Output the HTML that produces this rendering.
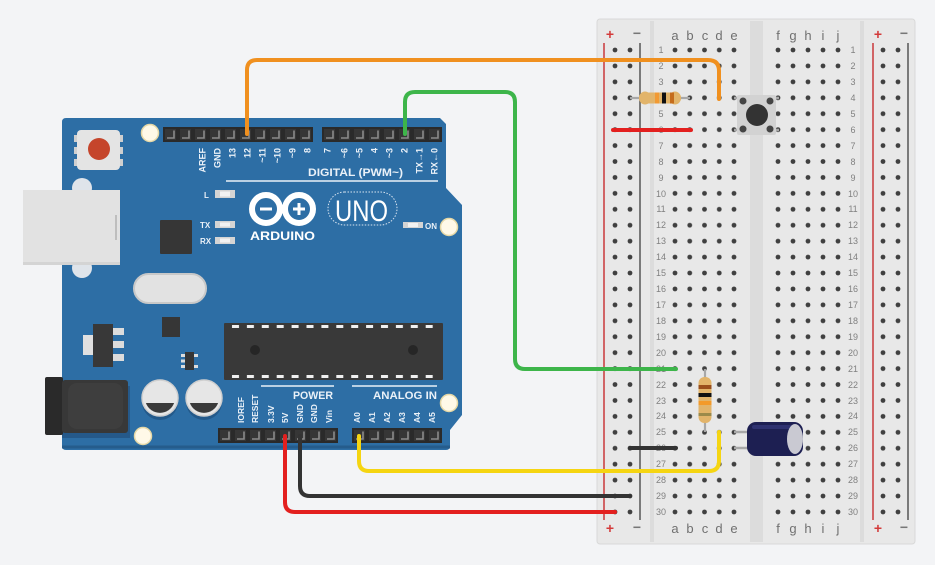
<!DOCTYPE html>
<html><head><meta charset="utf-8"><style>
html,body{margin:0;padding:0;background:#f3f4f6;}
svg{display:block;}
text{font-family:"Liberation Sans",sans-serif;}
</style></head><body>
<svg width="935" height="565" viewBox="0 0 935 565" xmlns="http://www.w3.org/2000/svg">
<defs>
<pattern id="pA" patternUnits="userSpaceOnUse" x="667.625" y="42.035" width="14.75" height="15.93"><circle cx="7.375" cy="7.965" r="2.4" fill="#404040"/></pattern>
<pattern id="pB" patternUnits="userSpaceOnUse" x="770.5" y="42.035" width="15" height="15.93"><circle cx="7.5" cy="7.965" r="2.4" fill="#404040"/></pattern>
<pattern id="pR" patternUnits="userSpaceOnUse" x="607.5" y="42.035" width="15" height="15.93"><circle cx="7.5" cy="7.965" r="2.4" fill="#404040"/></pattern>
<pattern id="pH" patternUnits="userSpaceOnUse" x="0" y="0" width="15" height="15"><rect x="0" y="0" width="15" height="15" fill="#2a2a2a"/><rect x="2" y="2" width="11" height="11" fill="#363636"/><path d="M11,3.5 V11 H4" stroke="#8a8a8a" stroke-width="1.6" fill="none"/></pattern>
<pattern id="pM" patternUnits="userSpaceOnUse" x="0" y="0" width="14.9" height="57"><rect x="4" y="2" width="7" height="3" fill="#f0f0f0"/><rect x="4" y="52" width="7" height="3" fill="#f0f0f0"/></pattern>
</defs>

<rect width="935" height="565" fill="#f3f4f6"/>

<!-- ================= BREADBOARD ================= -->
<rect x="597" y="19" width="318" height="525" rx="3" fill="#e8e8e8" stroke="#d9d9d9"/>
<rect x="650" y="21" width="4" height="521" fill="#dcdcdc"/>
<rect x="860" y="21" width="4" height="521" fill="#dcdcdc"/>
<rect x="750" y="21" width="13" height="521" fill="#dcdcdc"/>
<line x1="604" y1="43" x2="604" y2="520" stroke="#c9393b" stroke-width="1.5"/>
<line x1="640" y1="43" x2="640" y2="520" stroke="#555" stroke-width="1.5"/>
<line x1="873" y1="43" x2="873" y2="520" stroke="#c9393b" stroke-width="1.5"/>
<line x1="908" y1="43" x2="908" y2="520" stroke="#555" stroke-width="1.5"/>

<rect x="667.625" y="42.035" width="73.75" height="477.9" fill="url(#pA)"/>
<rect x="770.5" y="42.035" width="75" height="477.9" fill="url(#pB)"/>
<rect x="607.5" y="42.035" width="30" height="477.9" fill="url(#pR)"/>
<rect x="875.5" y="42.035" width="30" height="477.9" fill="url(#pB)"/>

<g font-size="14" fill="#d33b3b" font-weight="bold" text-anchor="middle">
<text x="610" y="39">+</text><text x="878" y="39">+</text>
<text x="610" y="533">+</text><text x="878" y="533">+</text>
</g>
<g font-size="14" fill="#777" font-weight="bold" text-anchor="middle">
<text x="637" y="38">−</text><text x="904" y="38">−</text>
<text x="637" y="532">−</text><text x="904" y="532">−</text>
</g>
<g font-size="13" fill="#707070" text-anchor="middle">
<text x="675" y="40">a</text><text x="690" y="40">b</text><text x="705" y="40">c</text><text x="719" y="40">d</text><text x="734" y="40">e</text>
<text x="778" y="40">f</text><text x="793" y="40">g</text><text x="808" y="40">h</text><text x="823" y="40">i</text><text x="838" y="40">j</text>
<text x="675" y="533">a</text><text x="690" y="533">b</text><text x="705" y="533">c</text><text x="719" y="533">d</text><text x="734" y="533">e</text>
<text x="778" y="533">f</text><text x="793" y="533">g</text><text x="808" y="533">h</text><text x="823" y="533">i</text><text x="838" y="533">j</text>
</g>
<g font-size="9" fill="#808080" text-anchor="middle">
<text x="661" y="53">1</text><text x="661" y="69">2</text><text x="661" y="85">3</text><text x="661" y="101">4</text><text x="661" y="117">5</text>
<text x="661" y="133">6</text><text x="661" y="149">7</text><text x="661" y="165">8</text><text x="661" y="181">9</text><text x="661" y="197">10</text>
<text x="661" y="212">11</text><text x="661" y="228">12</text><text x="661" y="244">13</text><text x="661" y="260">14</text><text x="661" y="276">15</text>
<text x="661" y="292">16</text><text x="661" y="308">17</text><text x="661" y="324">18</text><text x="661" y="340">19</text><text x="661" y="356">20</text>
<text x="661" y="372">21</text><text x="661" y="388">22</text><text x="661" y="404">23</text><text x="661" y="419">24</text><text x="661" y="435">25</text>
<text x="661" y="451">26</text><text x="661" y="467">27</text><text x="661" y="483">28</text><text x="661" y="499">29</text><text x="661" y="515">30</text>
<text x="853" y="53">1</text><text x="853" y="69">2</text><text x="853" y="85">3</text><text x="853" y="101">4</text><text x="853" y="117">5</text>
<text x="853" y="133">6</text><text x="853" y="149">7</text><text x="853" y="165">8</text><text x="853" y="181">9</text><text x="853" y="197">10</text>
<text x="853" y="212">11</text><text x="853" y="228">12</text><text x="853" y="244">13</text><text x="853" y="260">14</text><text x="853" y="276">15</text>
<text x="853" y="292">16</text><text x="853" y="308">17</text><text x="853" y="324">18</text><text x="853" y="340">19</text><text x="853" y="356">20</text>
<text x="853" y="372">21</text><text x="853" y="388">22</text><text x="853" y="404">23</text><text x="853" y="419">24</text><text x="853" y="435">25</text>
<text x="853" y="451">26</text><text x="853" y="467">27</text><text x="853" y="483">28</text><text x="853" y="499">29</text><text x="853" y="515">30</text>
</g>

<!-- breadboard components -->
<!-- resistor 1 -->
<line x1="630" y1="98" x2="690" y2="98" stroke="#a8a8a8" stroke-width="2.2"/>
<rect x="639" y="92.5" width="42" height="11" rx="5.5" fill="#e2b46a"/>
<ellipse cx="645" cy="98" rx="6" ry="6.5" fill="#e2b46a"/>
<ellipse cx="675" cy="98" rx="6" ry="6.5" fill="#e2b46a"/>
<rect x="655" y="92.5" width="4" height="11" fill="#f29a33"/>
<rect x="662" y="92.5" width="4" height="11" fill="#111"/>
<rect x="670" y="92.5" width="4" height="11" fill="#c56c1c"/>

<!-- push button -->
<line x1="734" y1="98" x2="742" y2="98" stroke="#a8a8a8" stroke-width="2.5"/>
<line x1="734" y1="130" x2="742" y2="130" stroke="#a8a8a8" stroke-width="2.5"/>
<line x1="772" y1="98" x2="779" y2="98" stroke="#a8a8a8" stroke-width="2.5"/>
<line x1="772" y1="130" x2="779" y2="130" stroke="#a8a8a8" stroke-width="2.5"/>
<rect x="737" y="95" width="39" height="40" rx="2" fill="#d2d2d2"/>
<circle cx="743" cy="101" r="3.5" fill="#454545"/>
<circle cx="770" cy="101" r="3.5" fill="#454545"/>
<circle cx="743" cy="129" r="3.5" fill="#454545"/>
<circle cx="770" cy="129" r="3.5" fill="#454545"/>
<circle cx="757" cy="115" r="11" fill="#333"/>

<!-- resistor 2 -->
<line x1="705" y1="369" x2="705" y2="432" stroke="#a8a8a8" stroke-width="2.2"/>
<rect x="698.5" y="377" width="13" height="46" rx="6" fill="#e2b46a"/>
<rect x="698.5" y="385" width="13" height="4" fill="#9a4f1c"/>
<rect x="698.5" y="393" width="13" height="4" fill="#111"/>
<rect x="698.5" y="401" width="13" height="4" fill="#f39a2a"/>
<rect x="698.5" y="413" width="13" height="3" fill="#9c8a4a"/>

<!-- capacitor -->
<line x1="734" y1="432" x2="752" y2="432" stroke="#a8a8a8" stroke-width="2.5"/>
<line x1="734" y1="448" x2="752" y2="448" stroke="#a8a8a8" stroke-width="2.5"/>
<rect x="747" y="422" width="56" height="34" rx="9" fill="#1d1f52"/>
<rect x="752" y="425" width="40" height="4" rx="2" fill="#2e3170"/>
<ellipse cx="795" cy="439" rx="8" ry="15" fill="#c9c9d2"/>

<!-- ================= ARDUINO ================= -->
<path d="M66,118 H440 L446,124 V188 L462,205 V415 L450,430 V446 Q450,450 446,450 H66 Q62,450 62,446 V122 Q62,118 66,118 Z" fill="#2d6ea5"/>
<path d="M62,447 H450" stroke="#255c8c" stroke-width="3"/>

<!-- USB -->
<circle cx="82" cy="188" r="10" fill="#dfe4ea"/>
<circle cx="82" cy="268" r="10" fill="#dfe4ea"/>
<rect x="23" y="190" width="97" height="75" fill="#e2e2e2"/>
<rect x="23" y="262" width="97" height="3" fill="#d4d4d4"/>
<line x1="116" y1="215" x2="116" y2="240" stroke="#9a9a9a" stroke-width="1"/>

<!-- reset button -->
<rect x="74" y="135" width="4" height="7" fill="#cfcfcf"/><rect x="74" y="147" width="4" height="7" fill="#cfcfcf"/><rect x="74" y="159" width="4" height="7" fill="#cfcfcf"/>
<rect x="119" y="135" width="4" height="7" fill="#cfcfcf"/><rect x="119" y="147" width="4" height="7" fill="#cfcfcf"/><rect x="119" y="159" width="4" height="7" fill="#cfcfcf"/>
<rect x="77" y="130" width="43" height="40" rx="4" fill="#e4e4e4"/>
<circle cx="99" cy="149" r="11" fill="#c5452b"/>

<!-- mount holes -->
<g fill="#fff9e8" stroke="#e6d8a6" stroke-width="1.5">
<circle cx="150" cy="133" r="8.5"/><circle cx="449" cy="227" r="8.5"/>
<circle cx="143" cy="436" r="8.5"/><circle cx="449" cy="403" r="8.5"/>
</g>

<!-- headers -->
<g transform="translate(163,127)"><rect x="0" y="0" width="150" height="15" fill="url(#pH)"/></g>
<g transform="translate(322,127)"><rect x="0" y="0" width="120" height="15" fill="url(#pH)"/></g>
<g transform="translate(218,428)"><rect x="0" y="0" width="120" height="15" fill="url(#pH)"/></g>
<g transform="translate(352,428)"><rect x="0" y="0" width="90" height="15" fill="url(#pH)"/></g>

<!-- top labels -->
<g font-size="9" font-weight="bold" fill="#eaf1f8" text-anchor="end">
<text transform="translate(205.5,148) rotate(-90)">AREF</text>
<text transform="translate(220.5,148) rotate(-90)">GND</text>
<text transform="translate(235.5,148) rotate(-90)">13</text>
<text transform="translate(250.5,148) rotate(-90)">12</text>
<text transform="translate(265.5,148) rotate(-90)">~11</text>
<text transform="translate(280.5,148) rotate(-90)">~10</text>
<text transform="translate(295.5,148) rotate(-90)">~9</text>
<text transform="translate(310.5,148) rotate(-90)">8</text>
<text transform="translate(330.5,148) rotate(-90)">7</text>
<text transform="translate(347.5,148) rotate(-90)">~6</text>
<text transform="translate(362.5,148) rotate(-90)">~5</text>
<text transform="translate(377.5,148) rotate(-90)">4</text>
<text transform="translate(392.5,148) rotate(-90)">~3</text>
<text transform="translate(407.5,148) rotate(-90)">2</text>
<text transform="translate(422.5,148) rotate(-90)">TX→1</text>
<text transform="translate(437.5,148) rotate(-90)">RX←0</text>
</g>
<text x="308" y="176" font-size="11" font-weight="bold" fill="#eaf1f8" textLength="95" lengthAdjust="spacingAndGlyphs">DIGITAL (PWM~)</text>
<line x1="226" y1="181" x2="438" y2="181" stroke="#eaf1f8" stroke-width="1.5"/>

<!-- LEDs -->
<g font-size="8" font-weight="bold" fill="#eaf1f8">
<text x="204" y="198">L</text>
<text x="200" y="228">TX</text>
<text x="200" y="244">RX</text>
<text x="425" y="229">ON</text>
</g>
<g fill="#d4d4d4">
<rect x="215" y="190" width="20" height="8"/>
<rect x="215" y="221" width="20" height="7"/>
<rect x="215" y="237" width="20" height="7"/>
<rect x="403" y="222" width="20" height="6"/>
</g>
<g fill="#f2f2f2">
<rect x="220" y="191.5" width="10" height="5"/>
<rect x="220" y="222.5" width="10" height="4"/>
<rect x="220" y="238.5" width="10" height="4"/>
<rect x="408" y="223" width="10" height="4"/>
</g>

<!-- left chip -->
<rect x="160" y="220" width="32" height="34" rx="1" fill="#363636"/>

<!-- logo -->
<g fill="none" stroke="#ffffff" stroke-width="6">
<circle cx="266" cy="209" r="14"/>
<circle cx="299" cy="209" r="14"/>
</g>
<g stroke="#ffffff" stroke-width="3">
<line x1="260" y1="209" x2="272" y2="209"/>
<line x1="293" y1="209" x2="305" y2="209"/>
<line x1="299" y1="203" x2="299" y2="215"/>
</g>
<text x="250" y="240" font-size="12" font-weight="bold" fill="#ffffff" textLength="65" lengthAdjust="spacingAndGlyphs">ARDUINO</text>
<rect x="328" y="192" width="69" height="33" rx="16.5" fill="none" stroke="#d8e4f0" stroke-width="1" stroke-dasharray="1.5 1.5"/>
<text x="335" y="221" font-size="30" fill="#ffffff" textLength="53" lengthAdjust="spacingAndGlyphs">UNO</text>

<!-- crystal -->
<rect x="134" y="274" width="72" height="29" rx="14.5" fill="#e2e2e2" stroke="#c8c8c8" stroke-width="2"/>

<!-- small chips -->
<rect x="162" y="317" width="18" height="20" fill="#363636"/>
<rect x="181" y="354" width="4" height="3" fill="#ddd"/><rect x="181" y="359.5" width="4" height="3" fill="#ddd"/><rect x="181" y="365" width="4" height="3" fill="#ddd"/>
<rect x="194" y="354" width="4" height="3" fill="#ddd"/><rect x="194" y="365" width="4" height="3" fill="#ddd"/>
<rect x="185" y="352" width="9" height="18" fill="#363636"/>

<!-- regulator -->
<rect x="83" y="335" width="10" height="20" fill="#e0e0e0"/>
<rect x="93" y="324" width="20" height="43" fill="#383838"/>
<rect x="113" y="328" width="11" height="7" fill="#dcdcdc"/>
<rect x="113" y="341" width="11" height="7" fill="#dcdcdc"/>
<rect x="113" y="354" width="11" height="7" fill="#dcdcdc"/>

<!-- power jack -->
<rect x="62" y="386" width="68" height="52" fill="#25598a"/>
<rect x="45" y="377" width="18" height="58" rx="2" fill="#2a2a2a"/>
<rect x="62" y="380" width="66" height="53" rx="3" fill="#383838"/>
<rect x="68" y="383" width="55" height="46" rx="9" fill="#3e3e3e"/>

<!-- capacitors -->
<circle cx="160" cy="402" r="18" fill="#23598a"/>
<circle cx="204" cy="402" r="18" fill="#23598a"/>
<circle cx="160" cy="398" r="18" fill="#e6e6e6" stroke="#cfcfcf" stroke-width="1.5"/>
<circle cx="204" cy="398" r="18" fill="#e6e6e6" stroke="#cfcfcf" stroke-width="1.5"/>
<path d="M145.9,403 A15,15 0 0 0 174.1,403 Z" fill="#3a3a3a"/>
<path d="M189.9,403 A15,15 0 0 0 218.1,403 Z" fill="#3a3a3a"/>

<!-- big chip -->
<rect x="224" y="323" width="219" height="57" rx="1" fill="#393939"/>
<g transform="translate(228,323)"><rect x="0" y="0" width="209" height="57" fill="url(#pM)"/></g>
<circle cx="255" cy="350" r="5" fill="#262626"/>
<circle cx="413" cy="350" r="5" fill="#262626"/>

<!-- power / analog labels -->
<line x1="261" y1="386" x2="334" y2="386" stroke="#eaf1f8" stroke-width="1.5"/>
<line x1="352" y1="386" x2="437" y2="386" stroke="#eaf1f8" stroke-width="1.5"/>
<text x="293" y="399" font-size="11" font-weight="bold" fill="#eaf1f8" textLength="40" lengthAdjust="spacingAndGlyphs">POWER</text>
<text x="373" y="399" font-size="11" font-weight="bold" fill="#eaf1f8" textLength="64" lengthAdjust="spacingAndGlyphs">ANALOG IN</text>
<g font-size="8.5" font-weight="bold" fill="#eaf1f8" text-anchor="start">
<text transform="translate(244,423) rotate(-90)">IOREF</text>
<text transform="translate(258,423) rotate(-90)">RESET</text>
<text transform="translate(274,423) rotate(-90)">3.3V</text>
<text transform="translate(288,423) rotate(-90)">5V</text>
<text transform="translate(303,423) rotate(-90)">GND</text>
<text transform="translate(317,423) rotate(-90)">GND</text>
<text transform="translate(332,423) rotate(-90)">Vin</text>
<text transform="translate(360,423) rotate(-90)">A0</text>
<text transform="translate(375,423) rotate(-90)">A1</text>
<text transform="translate(390,423) rotate(-90)">A2</text>
<text transform="translate(405,423) rotate(-90)">A3</text>
<text transform="translate(420,423) rotate(-90)">A4</text>
<text transform="translate(435,423) rotate(-90)">A5</text>
</g>

<!-- ================= WIRES ================= -->
<g fill="none" stroke-width="4" stroke-linecap="round" stroke-linejoin="round">
<path d="M247,134 V70 Q247,60 257,60 H708 Q719,60 719,71 V99" stroke="#f0901f"/>
<path d="M405,134 V102 Q405,92 415,92 H505 Q515,92 515,102 V359 Q515,369 525,369 H676" stroke="#3db54a"/>
<path d="M359,436 V461 Q359,471 369,471 H709 Q719,471 719,461 V432" stroke="#f5d512"/>
<path d="M300,436 V486 Q300,496 310,496 H630" stroke="#333333"/>
<path d="M285,436 V502 Q285,512 295,512 H615" stroke="#e3201f"/>
<path d="M613,130 H691" stroke="#e3201f"/>
<path d="M630,448 H676" stroke="#333333"/>
</g>
</svg>
</body></html>
